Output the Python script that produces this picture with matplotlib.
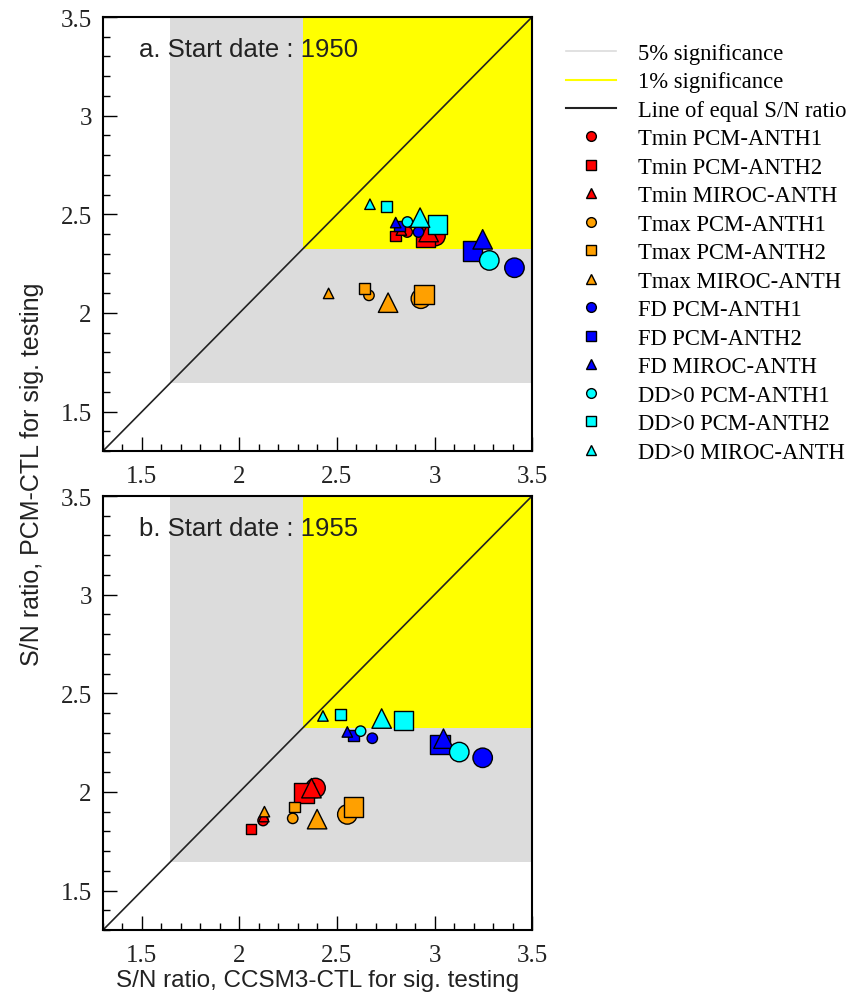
import matplotlib
matplotlib.use("Agg")
import matplotlib.pyplot as plt
from matplotlib.lines import Line2D
from matplotlib.ticker import MultipleLocator

# ---------------- data ----------------
series_labels = ["Tmin PCM-ANTH1", "Tmin PCM-ANTH2", "Tmin MIROC-ANTH",
                 "Tmax PCM-ANTH1", "Tmax PCM-ANTH2", "Tmax MIROC-ANTH",
                 "FD PCM-ANTH1", "FD PCM-ANTH2", "FD MIROC-ANTH",
                 "DD>0 PCM-ANTH1", "DD>0 PCM-ANTH2", "DD>0 MIROC-ANTH"]
series_colors = ["#ff0000"] * 3 + ["#ffa000"] * 3 + ["#0000ff"] * 3 + ["#00ffff"] * 3
series_markers = ["o", "s", "^"] * 4

# Panel a: start date 1950 (small and large symbols)
x_1950_small = [2.86, 2.80, 2.83, 2.664, 2.642, 2.457, 2.918, 2.82, 2.801, 2.861, 2.753, 2.669]
y_1950_small = [2.41, 2.39, 2.42, 2.089, 2.123, 2.099, 2.41, 2.44, 2.458, 2.461, 2.539, 2.551]
x_1950_large = [3.005, 2.955, 2.97, 2.93, 2.947, 2.762, 3.41, 3.196, 3.247, 3.281, 3.016, 2.926]
y_1950_large = [2.39, 2.385, 2.41, 2.072, 2.094, 2.052, 2.229, 2.314, 2.373, 2.266, 2.449, 2.483]

# Panel b: start date 1955
x_1955_small = [2.121, 2.059, 2.125, 2.273, 2.282, 2.128, 2.681, 2.584, 2.553, 2.621, 2.518, 2.428]
y_1955_small = [1.855, 1.813, 1.875, 1.866, 1.923, 1.90, 2.272, 2.287, 2.304, 2.308, 2.393, 2.385]
x_1955_large = [2.39, 2.33, 2.369, 2.553, 2.584, 2.398, 3.247, 3.029, 3.046, 3.127, 2.841, 2.729]
y_1955_large = [2.02, 1.994, 2.019, 1.886, 1.923, 1.862, 2.173, 2.241, 2.27, 2.202, 2.363, 2.372]

panel_titles = ["a. Start date : 1950", "b. Start date : 1955"]
sig5 = 1.645
sig1 = 2.326
axis_min, axis_max = 1.3, 3.5
major_ticks = [1.5, 2, 2.5, 3, 3.5]
tick_labels = ["1.5", "2", "2.5", "3", "3.5"]

SERIF = "Liberation Serif"
SANS = "Liberation Sans"

fig = plt.figure(figsize=(8.61, 9.95), dpi=100)
ax_a = fig.add_axes([0.1196, 0.5457, 0.4983, 0.4362])
ax_b = fig.add_axes([0.1196, 0.0643, 0.4983, 0.4362])

panels = [
    (ax_a, x_1950_small, y_1950_small, x_1950_large, y_1950_large, panel_titles[0]),
    (ax_b, x_1955_small, y_1955_small, x_1955_large, y_1955_large, panel_titles[1]),
]

small_s = 7.5 ** 2
large_s = 14.0 ** 2

for ax, xs, ys, xl, yl, title in panels:
    ax.set_xlim(axis_min, axis_max)
    ax.set_ylim(axis_min, axis_max)
    # significance regions
    ax.fill_between([sig5, axis_max], sig5, axis_max, color="#dcdcdc", lw=0, zorder=0)
    ax.fill_between([sig1, axis_max], sig1, axis_max, color="#ffff00", lw=0, zorder=0.5)
    # line of equal S/N
    ax.plot([axis_min, axis_max], [axis_min, axis_max], color="#222222", lw=1.2, zorder=1)
    z = 2
    for i in range(len(series_labels)):
        ax.scatter([xs[i], xl[i]], [ys[i], yl[i]], s=[small_s, large_s],
                   c=series_colors[i], marker=series_markers[i],
                   edgecolors="black", linewidths=1.0, zorder=z)
        z += 0.01
    ax.text(0.083, 0.926, title, transform=ax.transAxes, fontsize=18.5,
            family=SANS, color="#222222", va="center", ha="left", zorder=5)
    ax.set_xticks(major_ticks)
    ax.set_xticklabels(tick_labels)
    ax.set_yticks(major_ticks)
    ax.set_yticklabels(tick_labels)
    ax.xaxis.set_minor_locator(MultipleLocator(0.1))
    ax.yaxis.set_minor_locator(MultipleLocator(0.1))
    ax.tick_params(which="major", direction="in", length=10, width=1.0,
                   top=False, right=False, pad=8)
    ax.tick_params(axis="x", which="major", pad=10)
    ax.tick_params(which="minor", direction="in", length=5, width=1.0,
                   top=False, right=False)
    for lab in ax.get_xticklabels() + ax.get_yticklabels():
        lab.set_fontfamily(SERIF)
        lab.set_fontsize(18)
        lab.set_color("#222222")
    for sp in ax.spines.values():
        sp.set_linewidth(1.5)
        sp.set_zorder(6)

ax_b.set_xlabel("S/N ratio, CCSM3-CTL for sig. testing", fontsize=17.5,
                family=SANS, color="#222222", labelpad=2)
fig.text(32 / 861, 1 - 474 / 995, "S/N ratio, PCM-CTL for sig. testing",
         rotation=90, fontsize=18, family=SANS, color="#222222",
         ha="center", va="center")

# legend
handles = [
    Line2D([], [], color="#dcdcdc", lw=1.2),
    Line2D([], [], color="#ffff00", lw=1.5),
    Line2D([], [], color="#222222", lw=1.5),
]
labels = ["5% significance", "1% significance", "Line of equal S/N ratio"]
for i in range(len(series_labels)):
    handles.append(Line2D([], [], ls="none", marker=series_markers[i],
                          markerfacecolor=series_colors[i], markeredgecolor="black",
                          markeredgewidth=1.0, markersize=7))
    labels.append(series_labels[i])

fig.legend(handles, labels, loc="upper left", bbox_to_anchor=(566 / 861, 1 - 44 / 995),
           frameon=False, prop={"family": SERIF, "size": 16.3},
           handlelength=2.2, handletextpad=1.0, labelspacing=0.33,
           borderpad=0, borderaxespad=0)

fig.savefig("out.png", dpi=100)
